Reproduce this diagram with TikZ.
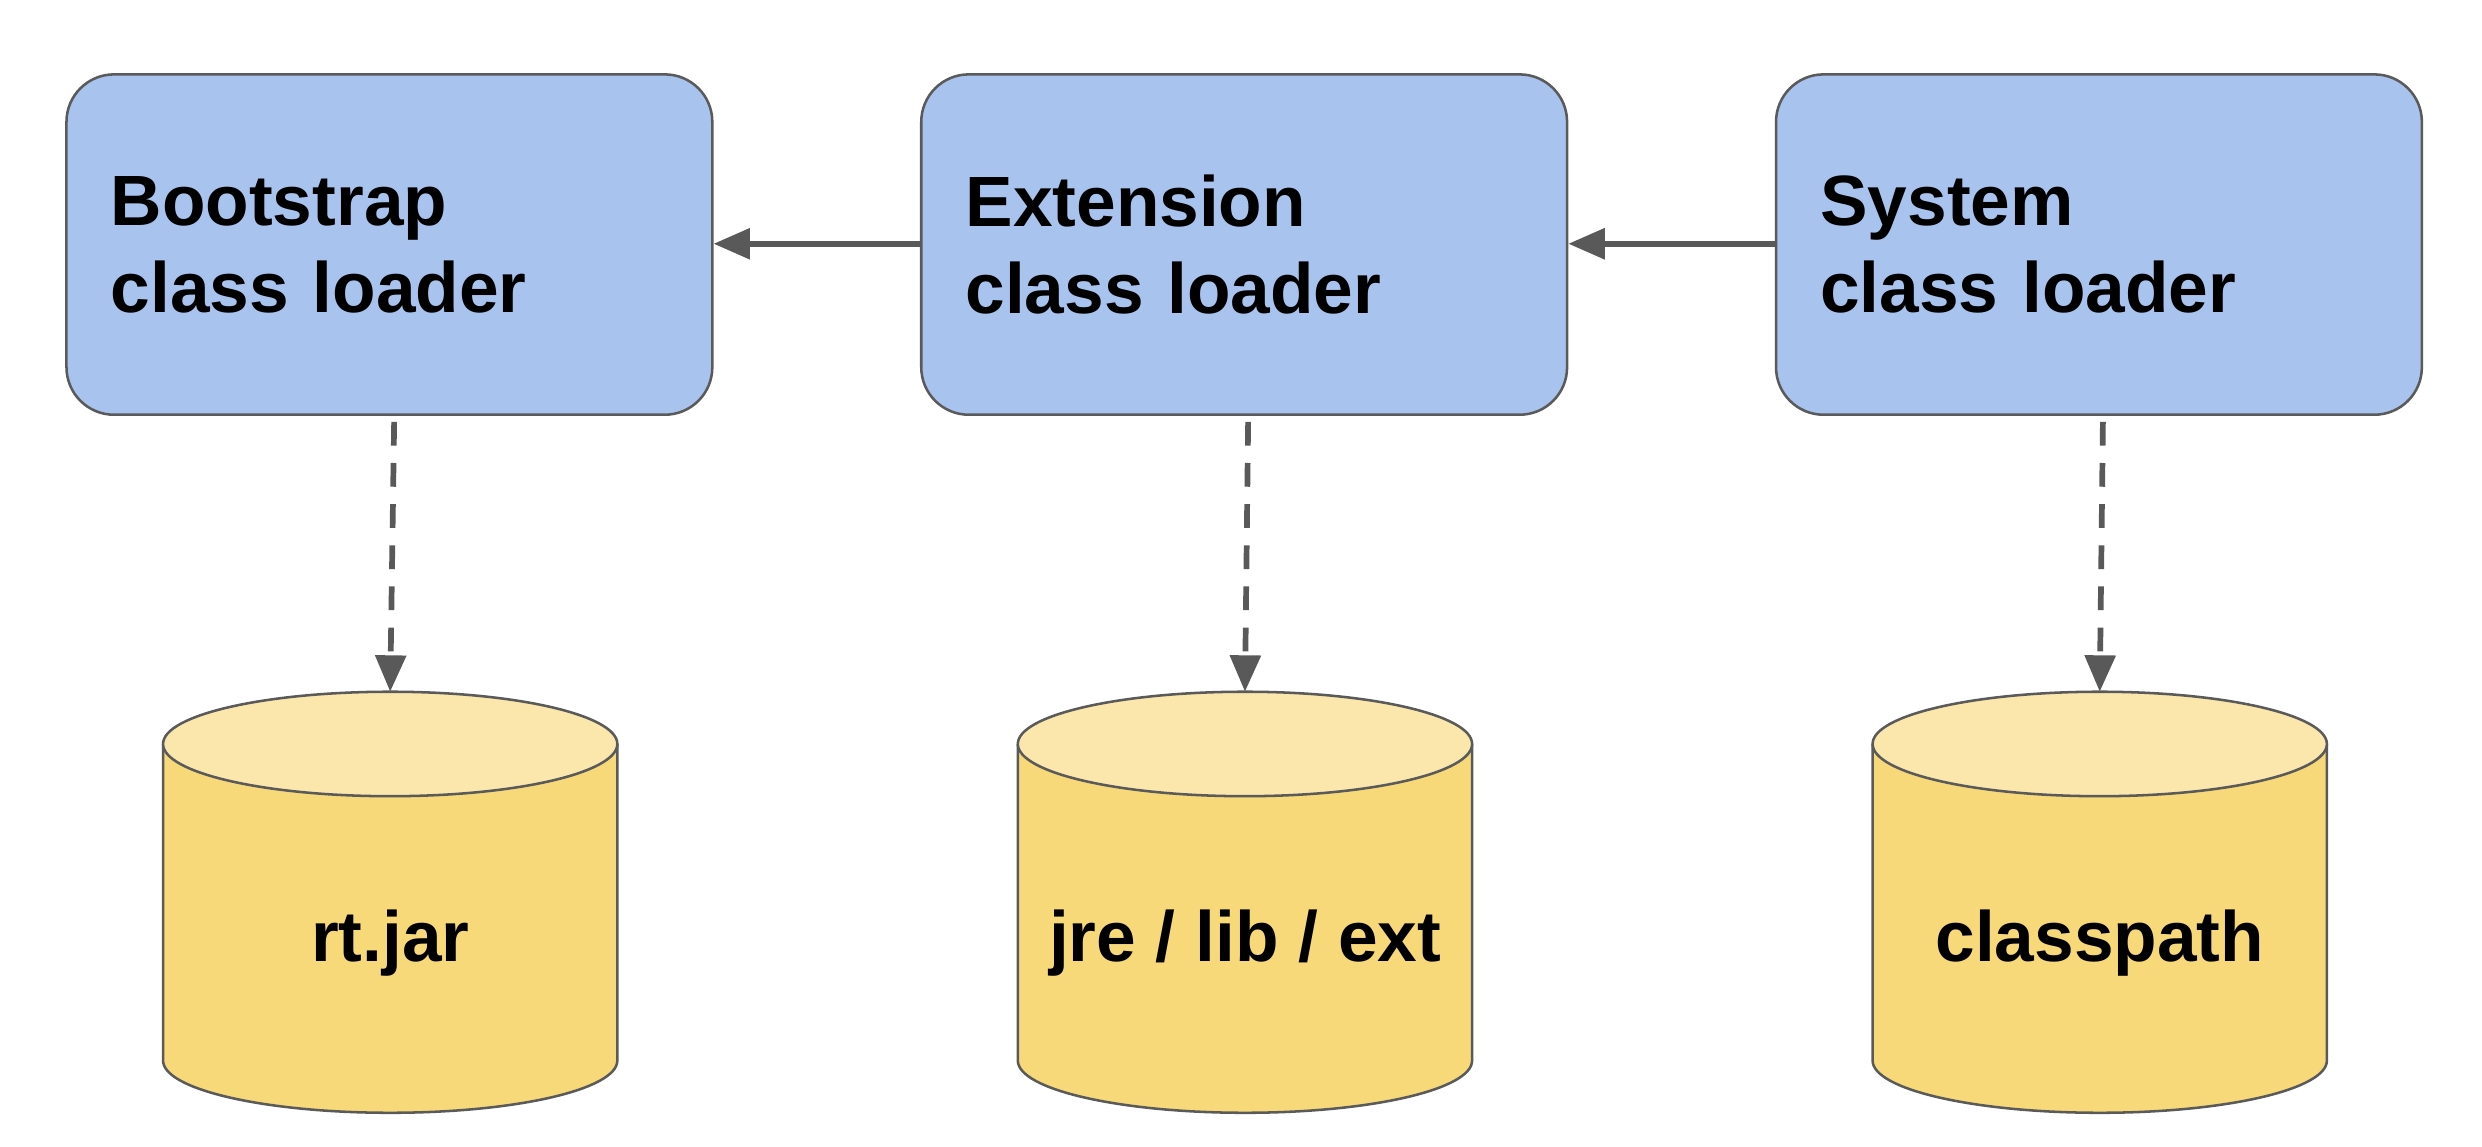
\documentclass[tikz,border=0pt]{standalone}
\usepackage{fontspec}
\setmainfont{Liberation Sans}
\usetikzlibrary{arrows.meta}
\definecolor{boxfill}{HTML}{A9C3EF}
\definecolor{cylbody}{HTML}{F8D97A}
\definecolor{cyltop}{HTML}{FBE7AC}
\definecolor{edgegray}{HTML}{5A5A5A}
\definecolor{arrgray}{HTML}{595959}
\tikzset{
  loaderbox/.style={draw=edgegray, line width=1.6pt, fill=boxfill, rounded corners=30pt,
    minimum width=408pt, minimum height=215pt, text width=352pt, inner xsep=28pt,
    align=left, font=\fontsize{45}{55}\selectfont\bfseries},
  cyllabel/.style={font=\fontsize{45}{55}\selectfont\bfseries, inner sep=0pt},
  cylline/.style={draw=edgegray, line width=1.6pt},
  solidarrow/.style={draw=arrgray, line width=3.6pt, -{Triangle[length=23pt,width=19pt]}},
  dasharrow/.style={draw=arrgray, line width=3.6pt, dash pattern=on 15pt off 11pt,
    -{Triangle[length=23pt,width=19pt]}}
}
\newcommand{\dbcyl}[3]{% name, center x, label
  \fill[cylbody] (#2-143.5,254) -- (#2-143.5,54) arc[start angle=180,end angle=360,x radius=143.5pt,y radius=33pt] -- (#2+143.5,254) -- cycle;
  \draw[cylline] (#2-143.5,254) -- (#2-143.5,54) arc[start angle=180,end angle=360,x radius=143.5pt,y radius=33pt] -- (#2+143.5,254);
  \draw[cylline, fill=cyltop] (#2,254) ellipse[x radius=143.5pt, y radius=33pt];
  \coordinate (#1top) at (#2,287);
  \node[cyllabel] (#1) at (#2,128.5) {#3};
}
\begin{document}
\begin{tikzpicture}[x=1pt,y=1pt]
\useasboundingbox (0,0) rectangle (1568,724);
\node[loaderbox] (boot) at (246,569.5) {Bootstrap\\class loader};
\node[loaderbox] (ext) at (786,569.5) {Extension\\class loader};
\node[loaderbox] (sys) at (1326,569.5) {System\\class loader};
\dbcyl{rt}{246.5}{rt.jar}
\dbcyl{jre}{786.5}{jre / lib / ext}
\dbcyl{cp}{1326.5}{classpath}
\draw[solidarrow] (ext.west |- 0,570) -- (boot.east |- 0,570);
\draw[solidarrow] (sys.west |- 0,570) -- (ext.east |- 0,570);
\coordinate (b1) at (249,457.5);
\coordinate (b2) at (788.5,457.5);
\coordinate (b3) at (1328.5,457.5);
\draw[dasharrow] (b1) -- (rttop);
\draw[dasharrow] (b2) -- (jretop);
\draw[dasharrow] (b3) -- (cptop);
\end{tikzpicture}
\end{document}
